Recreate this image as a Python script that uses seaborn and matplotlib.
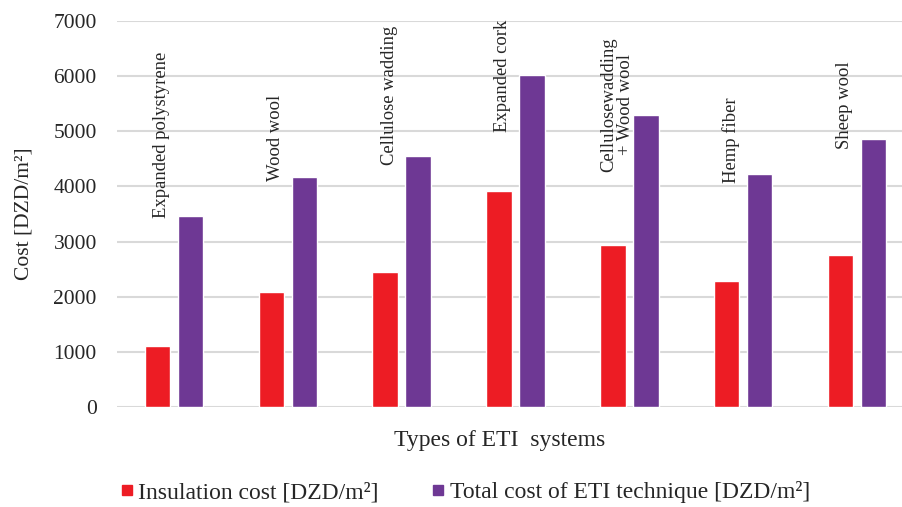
import numpy as np
import pandas as pd
import seaborn as sns
import matplotlib.pyplot as plt
from matplotlib.lines import Line2D

# data
systems = ["Expanded polystyrene", "Wood wool", "Cellulose wadding", "Expanded cork",
           "Cellulosewadding + Wood wool", "Hemp fiber", "Sheep wool"]
insulation_cost = [1100, 2090, 2455, 3925, 2945, 2290, 2760]
total_cost = [3460, 4180, 4555, 6020, 5300, 4230, 4855]
series_names = ["Insulation cost [DZD/m²]", "Total cost of ETI technique [DZD/m²]"]
label_y = [3435, 4090, 4380, 4980, 4270, 4070, 4670]
colors = ["#ED1C24", "#6E3894"]

df = pd.DataFrame({
    "system": systems * 2,
    "cost": insulation_cost + total_cost,
    "series": [series_names[0]] * len(systems) + [series_names[1]] * len(systems),
})

sns.set_style("white")
plt.rcParams['font.family'] = ['Liberation Serif', 'DejaVu Serif']

fig = plt.figure(figsize=(9.02, 5.07), dpi=100)
ax = fig.add_axes([117/902, 1 - 407/507, 797/902, (407 - 21)/507])

sns.barplot(data=df, x="system", y="cost", hue="series",
            palette=colors, width=0.58, gap=0.23,
            saturation=1, ax=ax, legend=False)

ax.set_ylim(0, 7000)
ax.set_yticks(np.arange(0, 7001, 1000))
ax.set_xlim(-0.5, 6.5)
ax.set_xticks(range(len(systems)))
ax.set_xticklabels([])
ax.tick_params(axis='both', length=0)
ax.tick_params(axis='y', labelsize=15.5, pad=14.5)
ax.yaxis.grid(True, color="#d9d9d9", lw=1.5)
ax.set_axisbelow(True)
for s in ax.spines.values():
    s.set_visible(False)

ax.set_ylabel("Cost [DZD/m²]", fontsize=15.5)
ax.yaxis.set_label_coords(-0.105, 0.5)
ax.set_xlabel("Types of ETI  systems", fontsize=17)
ax.xaxis.set_label_coords((500 - 117) / 797, -0.06)

for i, name in enumerate(systems):
    txt = name.replace(" + ", "\n+ ")
    ax.text(i - 0.11, label_y[i], txt, rotation=90, ha='center', va='bottom',
            fontsize=13.4, multialignment='center', linespacing=1.0)

handles = [Line2D([], [], marker='s', linestyle='', markersize=7.5,
                  markerfacecolor=c, markeredgecolor=c) for c in colors]
fig.legend(handles, series_names, loc='center', bbox_to_anchor=(466/902, 1 - 492/507),
           ncol=2, frameon=False, fontsize=17, handlelength=0.4,
           handletextpad=0.3, columnspacing=2.3)

fig.savefig("out.png", dpi=100)
